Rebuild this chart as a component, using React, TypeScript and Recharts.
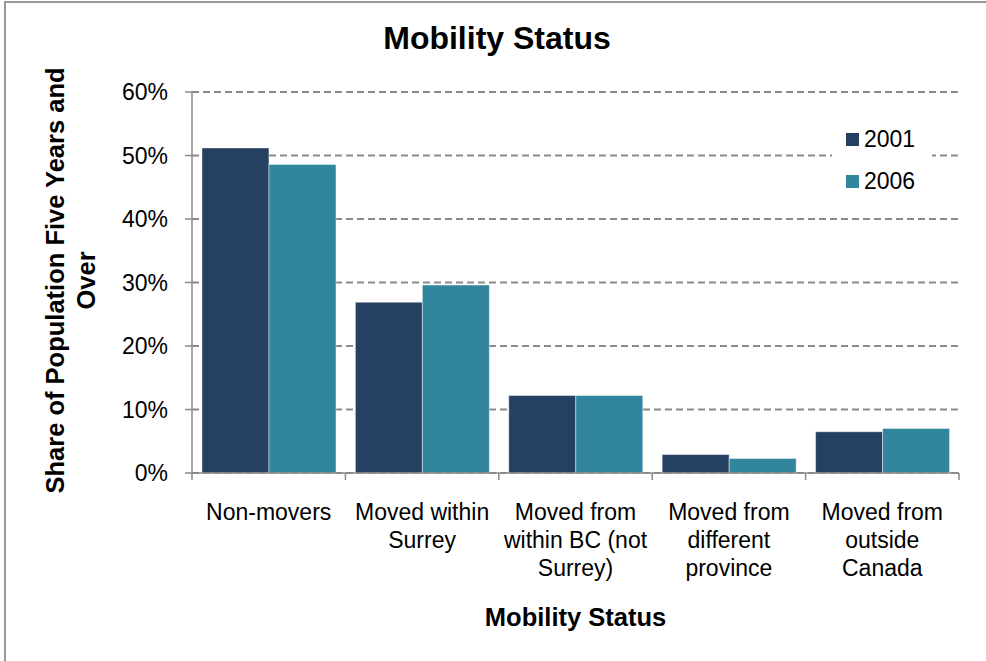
import { BarChart, Bar, XAxis, YAxis, CartesianGrid, Legend } from "recharts";

const categories = [
  "Non-movers",
  "Moved within\nSurrey",
  "Moved from\nwithin BC (not\nSurrey)",
  "Moved from\ndifferent\nprovince",
  "Moved from\noutside\nCanada",
];
const share2001 = [51.2, 26.9, 12.2, 2.9, 6.5];
const share2006 = [48.6, 29.6, 12.2, 2.3, 7.0];
const yTicks = [0, 10, 20, 30, 40, 50, 60];
const seriesNames = ["2001", "2006"];
const seriesColors = ["#264061", "#31859C"];

const data = categories.map((c, i) => ({
  name: c,
  y2001: share2001[i],
  y2006: share2006[i],
}));

const FONT = "'Liberation Sans', Arial, sans-serif";
const AXIS = "#8a8a8a";

function CategoryTick(props: any) {
  const { x, y, payload, index, visibleTicksCount } = props;
  const half = payload.offset ?? 0;
  const lines = String(payload.value).split("\n");
  return (
    <g>
      <line x1={x - half} x2={x - half} y1={y - 7} y2={y} stroke={AXIS} strokeWidth={1.5} />
      {index === visibleTicksCount - 1 && (
        <line x1={x + half} x2={x + half} y1={y - 7} y2={y} stroke={AXIS} strokeWidth={1.5} />
      )}
      <text x={x} y={y + 40} textAnchor="middle" fontSize={23} fontFamily={FONT} fill="#000">
        {lines.map((l, i) => (
          <tspan key={i} x={x} dy={i === 0 ? 0 : 28}>
            {l}
          </tspan>
        ))}
      </text>
    </g>
  );
}

function YTitle(props: any) {
  const vb = props.viewBox || {};
  const cy = vb.y + vb.height / 2;
  return (
    <g fontFamily={FONT} fontSize={25.5} fontWeight="bold" fill="#000">
      <text transform={`translate(64, ${cy - 2}) rotate(-90)`} textAnchor="middle">
        Share of Population Five Years and
      </text>
      <text transform={`translate(95, ${cy - 2}) rotate(-90)`} textAnchor="middle">
        Over
      </text>
    </g>
  );
}

function XTitle(props: any) {
  const vb = props.viewBox || {};
  return (
    <text
      x={vb.x + vb.width / 2}
      y={626}
      textAnchor="middle"
      fontFamily={FONT}
      fontSize={25.5}
      fontWeight="bold"
      fill="#000"
    >
      Mobility Status
    </text>
  );
}

function LegendBox() {
  return (
    <div style={{ background: "#fff", width: 100, height: 92, fontFamily: FONT, fontSize: 23 }}>
      {seriesNames.map((n, i) => (
        <div
          key={n}
          style={{ position: "absolute", left: 14, top: 18 + i * 42, display: "flex", alignItems: "center" }}
        >
          <span style={{ width: 13, height: 13, background: seriesColors[i], display: "inline-block" }} />
          <span style={{ marginLeft: 5, lineHeight: "23px", color: "#000" }}>{n}</span>
        </div>
      ))}
    </div>
  );
}

export default function App() {
  return (
    <div style={{ position: "absolute", left: 0, top: 0, width: 986, height: 661, background: "#fff" }}>
      <div
        style={{
          position: "absolute",
          left: 4,
          top: 1,
          right: 0,
          bottom: 0,
          borderTop: "2px solid #999",
          borderLeft: "2px solid #999",
        }}
      />
      <svg width={986} height={60} style={{ position: "absolute", left: 0, top: 0 }}>
        <text x={497} y={49} textAnchor="middle" fontFamily={FONT} fontSize={32} fontWeight="bold" fill="#000">
          Mobility Status
        </text>
      </svg>
      <div style={{ position: "absolute", left: 0, top: 0 }}>
        <BarChart
          width={986}
          height={661}
          data={data}
          margin={{ top: 92, right: 27, bottom: 0, left: 0 }}
          barCategoryGap="6.5%"
          barGap={0}
        >
          <CartesianGrid vertical={false} stroke={AXIS} strokeWidth={2} strokeDasharray="7 4" />
          <XAxis
            dataKey="name"
            height={188}
            interval={0}
            tickSize={7}
            tickMargin={0}
            tickLine={false}
            axisLine={{ stroke: AXIS, strokeWidth: 1.5 }}
            tick={<CategoryTick />}
            label={<XTitle />}
          />
          <YAxis
            width={192}
            domain={[0, 60]}
            ticks={yTicks}
            interval={0}
            tickFormatter={(v: number) => `${v}%`}
            tickSize={7}
            tickMargin={17}
            tickLine={{ stroke: AXIS, strokeWidth: 1.5 }}
            axisLine={{ stroke: AXIS, strokeWidth: 1.5 }}
            tick={{ fill: "#000", fontSize: 23, fontFamily: FONT }}
            label={<YTitle />}
          />
          <Legend
            layout="vertical"
            align="center"
            verticalAlign="middle"
            content={<LegendBox />}
            wrapperStyle={{ left: 832, top: 110, width: 100, height: 92 }}
          />
          <Bar dataKey="y2001" name={seriesNames[0]} fill={seriesColors[0]} stroke="rgba(255,255,255,0.45)" strokeWidth={1} isAnimationActive={false} />
          <Bar dataKey="y2006" name={seriesNames[1]} fill={seriesColors[1]} stroke="rgba(255,255,255,0.45)" strokeWidth={1} isAnimationActive={false} />
        </BarChart>
      </div>
    </div>
  );
}
